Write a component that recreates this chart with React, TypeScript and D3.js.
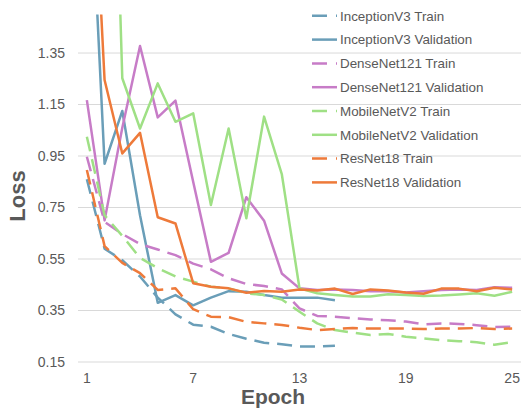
import { useEffect, useRef } from 'react';
import * as d3 from 'd3';

const epochs = [1, 2, 3, 4, 5, 6, 7, 8, 9, 10, 11, 12, 13, 14, 15, 16, 17, 18, 19, 20, 21, 22, 23, 24, 25];
const xTickLabels = [1, 7, 13, 19, 25];
const yTickValues = [0.15, 0.35, 0.55, 0.75, 0.95, 1.15, 1.35];

// values (points above 1.5 are clipped by the plot area)
const inceptionTrain = [0.86, 0.59, 0.545, 0.482, 0.40, 0.335, 0.295, 0.287, 0.259, 0.24, 0.225, 0.219, 0.21, 0.21, 0.213];
const inceptionVal = [2.34, 0.92, 1.125, 0.72, 0.38, 0.41, 0.37, 0.40, 0.425, 0.423, 0.41, 0.40, 0.40, 0.40, 0.39];
const denseTrain = [0.947, 0.694, 0.647, 0.608, 0.587, 0.565, 0.532, 0.51, 0.475, 0.453, 0.445, 0.432, 0.358, 0.329, 0.326, 0.32, 0.315, 0.312, 0.307, 0.296, 0.30, 0.298, 0.293, 0.286, 0.287];
const denseVal = [1.167, 0.70, 1.06, 1.377, 1.10, 1.165, 0.85, 0.539, 0.574, 0.79, 0.699, 0.494, 0.436, 0.43, 0.432, 0.43, 0.425, 0.425, 0.42, 0.425, 0.43, 0.432, 0.43, 0.44, 0.438];
const mobileTrain = [1.025, 0.72, 0.64, 0.554, 0.515, 0.482, 0.462, 0.442, 0.436, 0.417, 0.41, 0.393, 0.345, 0.30, 0.274, 0.264, 0.255, 0.259, 0.248, 0.242, 0.235, 0.231, 0.227, 0.217, 0.227];
const mobileVal = [3.8, 3.5, 1.252, 1.057, 1.232, 1.083, 1.116, 0.76, 1.057, 0.708, 1.103, 0.88, 0.436, 0.417, 0.41, 0.404, 0.404, 0.413, 0.41, 0.406, 0.408, 0.412, 0.417, 0.407, 0.423];
const resTrain = [0.896, 0.60, 0.535, 0.495, 0.43, 0.436, 0.355, 0.326, 0.324, 0.306, 0.30, 0.294, 0.283, 0.274, 0.278, 0.282, 0.28, 0.28, 0.28, 0.278, 0.28, 0.28, 0.282, 0.278, 0.28];
const resVal = [2.6, 1.245, 0.96, 1.04, 0.712, 0.688, 0.456, 0.442, 0.436, 0.419, 0.426, 0.423, 0.432, 0.428, 0.435, 0.414, 0.432, 0.428, 0.42, 0.415, 0.435, 0.435, 0.425, 0.438, 0.432];

const seriesNames = [
  'InceptionV3 Train', 'InceptionV3 Validation',
  'DenseNet121 Train', 'DenseNet121 Validation',
  'MobileNetV2 Train', 'MobileNetV2 Validation',
  'ResNet18 Train', 'ResNet18 Validation'
];
const seriesValues = [inceptionTrain, inceptionVal, denseTrain, denseVal, mobileTrain, mobileVal, resTrain, resVal];
const seriesColors = ['#6a9eb8', '#6a9eb8', '#c77cc7', '#c77cc7', '#9fe085', '#9fe085', '#ee7a3a', '#ee7a3a'];
const seriesDashed = [true, false, true, false, true, false, true, false];

const W = 522;
const H = 416;
const FONT = '"Liberation Sans", Arial, sans-serif';

export default function App() {
  const svgRef = useRef<SVGSVGElement>(null);

  useEffect(() => {
    const svg = d3.select(svgRef.current);
    svg.selectAll('*').remove();

    const left = 78, right = 521, top = 14.4, bottom = 362;

    const x = d3.scalePoint<number>().domain(epochs).range([left, right]).padding(0.5);
    const y = d3.scaleLinear().domain([0.15, 1.5]).range([bottom, top]);

    svg.append('defs').append('clipPath').attr('id', 'plot-clip')
      .append('rect')
      .attr('x', left).attr('y', top)
      .attr('width', right - left).attr('height', bottom - top);

    // gridlines
    svg.append('g')
      .selectAll('line')
      .data(yTickValues)
      .join('line')
      .attr('x1', left).attr('x2', right)
      .attr('y1', d => y(d)).attr('y2', d => y(d))
      .attr('stroke', '#d9d9d9')
      .attr('stroke-width', 1);

    // y tick labels
    svg.append('g')
      .selectAll('text')
      .data(yTickValues)
      .join('text')
      .attr('x', 65)
      .attr('y', d => y(d))
      .attr('dy', '0.35em')
      .attr('text-anchor', 'end')
      .attr('font-family', FONT)
      .attr('font-size', 14)
      .attr('fill', '#595959')
      .text(d => d3.format('.2f')(d));

    // x tick labels
    svg.append('g')
      .selectAll('text')
      .data(xTickLabels)
      .join('text')
      .attr('x', d => x(d) as number)
      .attr('y', 383)
      .attr('text-anchor', 'middle')
      .attr('font-family', FONT)
      .attr('font-size', 14)
      .attr('fill', '#595959')
      .text(d => d);

    // axis titles
    svg.append('text')
      .attr('x', 273).attr('y', 404)
      .attr('text-anchor', 'middle')
      .attr('font-family', FONT)
      .attr('font-size', 21)
      .attr('font-weight', 'bold')
      .attr('fill', '#595959')
      .text('Epoch');

    svg.append('text')
      .attr('transform', 'translate(25,196) rotate(-90)')
      .attr('text-anchor', 'middle')
      .attr('font-family', FONT)
      .attr('font-size', 22)
      .attr('font-weight', 'bold')
      .attr('fill', '#595959')
      .text('Loss');

    // lines
    const line = d3.line<number>()
      .x((_, i) => x(epochs[i]) as number)
      .y(d => y(d));

    svg.append('g')
      .attr('clip-path', 'url(#plot-clip)')
      .selectAll('path')
      .data(seriesValues)
      .join('path')
      .attr('d', d => line(d))
      .attr('fill', 'none')
      .attr('stroke', (_, i) => seriesColors[i])
      .attr('stroke-width', 2.5)
      .attr('stroke-linejoin', 'round')
      .attr('stroke-dasharray', (_, i) => seriesDashed[i] ? '15,8' : null);

    // legend
    const legend = svg.append('g')
      .selectAll('g')
      .data(seriesNames)
      .join('g')
      .attr('transform', (_, i) => `translate(312,${15.8 + i * 23.8})`);

    legend.append('line')
      .attr('x1', 0).attr('x2', 25)
      .attr('stroke', (_, i) => seriesColors[i])
      .attr('stroke-width', 2.5)
      .attr('stroke-dasharray', (_, i) => seriesDashed[i] ? '15,9' : null);

    legend.append('text')
      .attr('x', 28)
      .attr('dy', '0.35em')
      .attr('font-family', FONT)
      .attr('font-size', 13.4)
      .attr('fill', '#595959')
      .text(d => d);
  }, []);

  return (
    <svg
      ref={svgRef}
      width={W}
      height={H}
      style={{ position: 'absolute', left: 0, top: 0, background: '#fff' }}
    />
  );
}
